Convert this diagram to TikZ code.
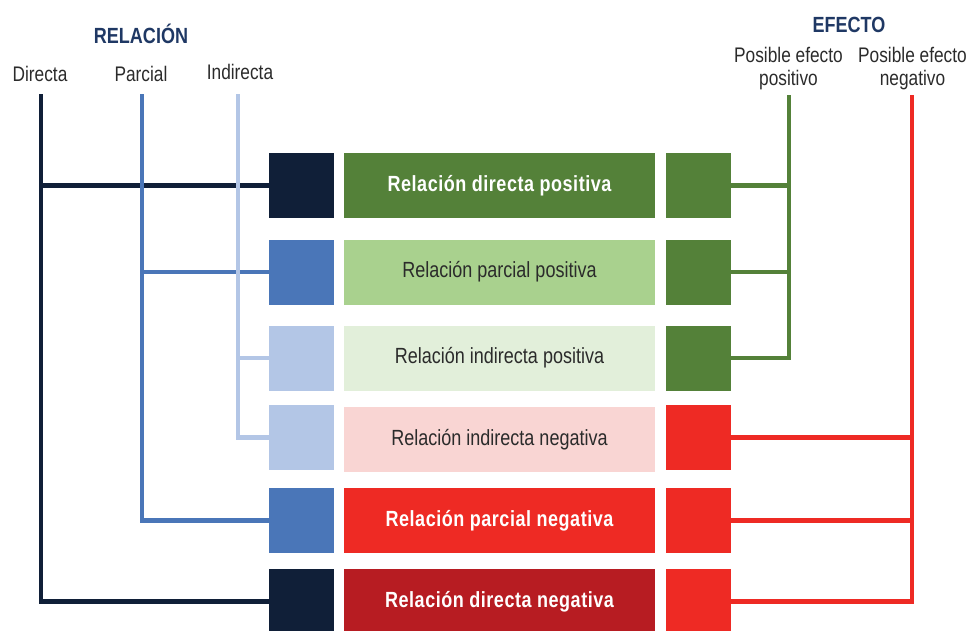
\documentclass[tikz,border=0pt]{standalone}
\usepackage{fontspec}
\setmainfont{Liberation Sans}[FakeStretch=0.82]
\usetikzlibrary{calc}
\definecolor{navy}{HTML}{101F38}
\definecolor{midblue}{HTML}{4A76B8}
\definecolor{paleblue}{HTML}{B3C6E6}
\definecolor{leaf}{HTML}{548139}
\definecolor{lightleaf}{HTML}{A9D18E}
\definecolor{paleleaf}{HTML}{E2EFDA}
\definecolor{palerose}{HTML}{F9D5D3}
\definecolor{signal}{HTML}{EE2A24}
\definecolor{wine}{HTML}{B71C22}
\definecolor{heading}{HTML}{1F3864}
\definecolor{ink}{HTML}{2B2B2B}

\begin{document}
\begin{tikzpicture}[
  x=0.02cm,y=-0.02cm,
  keybox/.style={minimum width=1.3cm, minimum height=1.3cm, inner sep=0pt},
  relbox/.style={minimum width=6.22cm, minimum height=1.3cm, inner sep=0pt,
    font=\fontsize{12.5}{14}\selectfont, text=ink},
  boldrel/.style={relbox, font=\fontsize{12.5}{14}\selectfont\bfseries
    \addfontfeatures{LetterSpace=2.4}, text=white},
  link/.style={line width=0.095cm},
  headline/.style={font=\fontsize{12.5}{14}\selectfont\bfseries,
    text=heading, anchor=base},
  colname/.style={font=\fontsize{12}{13}\selectfont, text=ink,
    align=center, inner sep=0pt}
]
\useasboundingbox (0,0) rectangle (971,630);

% Column headings.
\node[headline] (titleRel) at (141,43) {RELACIÓN};
\node[colname, anchor=base] (lblDir) at (40,81) {Directa};
\node[colname, anchor=base] (lblPar) at (141,81) {Parcial};
\node[colname, anchor=base] (lblInd) at (240,79) {Indirecta};

\node[headline] (titleEf) at (849,32) {EFECTO};
\node[colname] (lblPos) at (788.5,68.5) {Posible efecto\\positivo};
\node[colname] (lblNeg) at (912.5,68.5) {Posible efecto\\negativo};

% Left keys: relation type.
\node[keybox, fill=navy] (rel1) at (301.5,185.5) {};
\node[keybox, fill=midblue] (rel2) at (301.5,272) {};
\node[keybox, fill=paleblue] (rel3) at (301.5,358) {};
\node[keybox, fill=paleblue] (rel4) at (301.5,437.5) {};
\node[keybox, fill=midblue] (rel5) at (301.5,520.5) {};
\node[keybox, fill=navy] (rel6) at (301.5,601.5) {};

% Middle boxes.
\node[boldrel, fill=leaf] (txt1) at (499.5,185.5)
  {Relación directa positiva};
\node[relbox, fill=lightleaf] (txt2) at (499.5,272)
  {Relación parcial positiva};
\node[relbox, fill=paleleaf] (txt3) at (499.5,358)
  {Relación indirecta positiva};
\node[relbox, fill=palerose] (txt4) at (499.5,439.5)
  {Relación indirecta negativa};
\node[boldrel, fill=signal] (txt5) at (499.5,520.5)
  {Relación parcial negativa};
\node[boldrel, fill=wine] (txt6) at (499.5,601.5)
  {Relación directa negativa};

% Right keys: effect.
\node[keybox, fill=leaf] (ef1) at (698.5,185.5) {};
\node[keybox, fill=leaf] (ef2) at (698.5,272) {};
\node[keybox, fill=leaf] (ef3) at (698.5,358) {};
\node[keybox, fill=signal] (ef4) at (698.5,437.5) {};
\node[keybox, fill=signal] (ef5) at (698.5,520.5) {};
\node[keybox, fill=signal] (ef6) at (698.5,601.5) {};

% Trunk tops.
\coordinate (dirTop) at (41,94);
\coordinate (parTop) at (142,94);
\coordinate (indTop) at (238,94);
\coordinate (posTop) at (789,95);
\coordinate (negTop) at (912,95);

% Relation brackets, outermost first.
\draw[link, navy] (dirTop) |- (rel6.west);
\draw[link, navy] (rel1.west) -- (rel1.west -| dirTop);
\draw[link, midblue] (parTop) |- (rel5.west);
\draw[link, midblue] (rel2.west) -- (rel2.west -| parTop);
\draw[link, paleblue] (indTop) |- (rel4.west);
\draw[link, paleblue] (rel3.west) -- (rel3.west -| indTop);

% Effect brackets.
\draw[link, leaf] (posTop) |- (ef3.east);
\draw[link, leaf] (ef1.east) -- (ef1.east -| posTop);
\draw[link, leaf] (ef2.east) -- (ef2.east -| posTop);
\draw[link, signal] (negTop) |- (ef6.east);
\draw[link, signal] (ef4.east) -- (ef4.east -| negTop);
\draw[link, signal] (ef5.east) -- (ef5.east -| negTop);

\end{tikzpicture}
\end{document}
